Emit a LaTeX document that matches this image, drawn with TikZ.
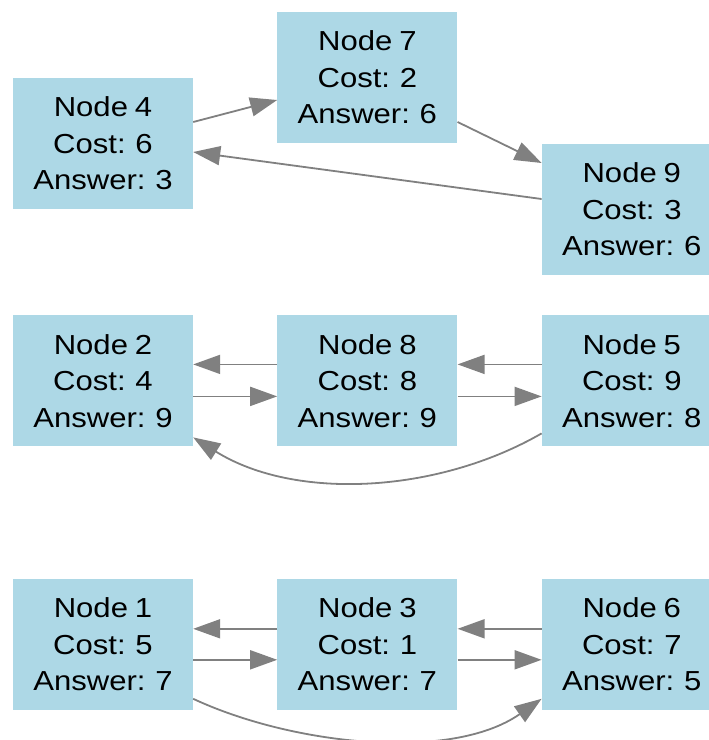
\documentclass[tikz,border=0pt]{standalone}
\usepackage{fontspec}
\setmainfont{Liberation Sans}[FakeStretch=1.13,WordSpace=0.8]
\usepackage{tikz}
\usetikzlibrary{positioning,arrows.meta}
\definecolor{boxblue}{HTML}{ADD8E6}
\definecolor{edgegray}{HTML}{808080}
\tikzset{
  qnode/.style={rectangle,fill=boxblue,minimum width=180pt,minimum height=131pt,
    inner sep=0pt,align=center,font=\fontsize{27.5}{36.5}\selectfont},
  >={Triangle[length=27pt,width=19pt]},
}

\begin{document}
\begin{tikzpicture}[
  ->,
  every edge/.style={draw=edgegray,line width=1.8pt},
  x=1pt,y=1pt
]
\useasboundingbox (0,0) rectangle (709,-740);

\node[qnode] (n4) at (103,-143.5) {Node 4\\Cost: 6\\Answer: 3};
\node[qnode,right=84pt of n4,yshift=66pt] (n7) {Node 7\\Cost: 2\\Answer: 6};
\node[qnode,right=84pt of n7,yshift=-132pt] (n9) {Node 9\\Cost: 3\\Answer: 6};

\node[qnode,below=106pt of n4] (n2) {Node 2\\Cost: 4\\Answer: 9};
\node[qnode,right=84pt of n2] (n8) {Node 8\\Cost: 8\\Answer: 9};
\node[qnode,right=84pt of n8] (n5) {Node 5\\Cost: 9\\Answer: 8};

\node[qnode,below=132pt of n2] (n1) {Node 1\\Cost: 5\\Answer: 7};
\node[qnode,right=84pt of n1] (n3) {Node 3\\Cost: 1\\Answer: 7};
\node[qnode,right=84pt of n3] (n6) {Node 6\\Cost: 7\\Answer: 5};

\path
([yshift=21.5pt]n4.east) edge ([yshift=-22.5pt]n7.west)
([yshift=-44.5pt]n7.east) edge ([yshift=46.5pt]n9.west)
([yshift=10.5pt]n9.west) edge ([yshift=-8.5pt]n4.east)

([yshift=16.5pt]n8.west) edge ([yshift=16.5pt]n2.east)
([yshift=-15.5pt]n2.east) edge ([yshift=-15.5pt]n8.west)
([yshift=16.5pt]n5.west) edge ([yshift=16.5pt]n8.east)
([yshift=-15.5pt]n8.east) edge ([yshift=-15.5pt]n5.west)
([yshift=-52.5pt]n5.west) edge[out=-150,in=-32,looseness=0.88] ([yshift=-56.5pt]n2.east)

([yshift=15.5pt]n3.west) edge ([yshift=15.5pt]n1.east)
([yshift=-15.5pt]n1.east) edge ([yshift=-15.5pt]n3.west)
([yshift=15.5pt]n6.west) edge ([yshift=15.5pt]n3.east)
([yshift=-15.5pt]n3.east) edge ([yshift=-15.5pt]n6.west)
([yshift=-54.5pt]n1.east) edge[out=-25,in=-145,looseness=0.81] ([yshift=-54.5pt]n6.west);

\end{tikzpicture}
\end{document}
